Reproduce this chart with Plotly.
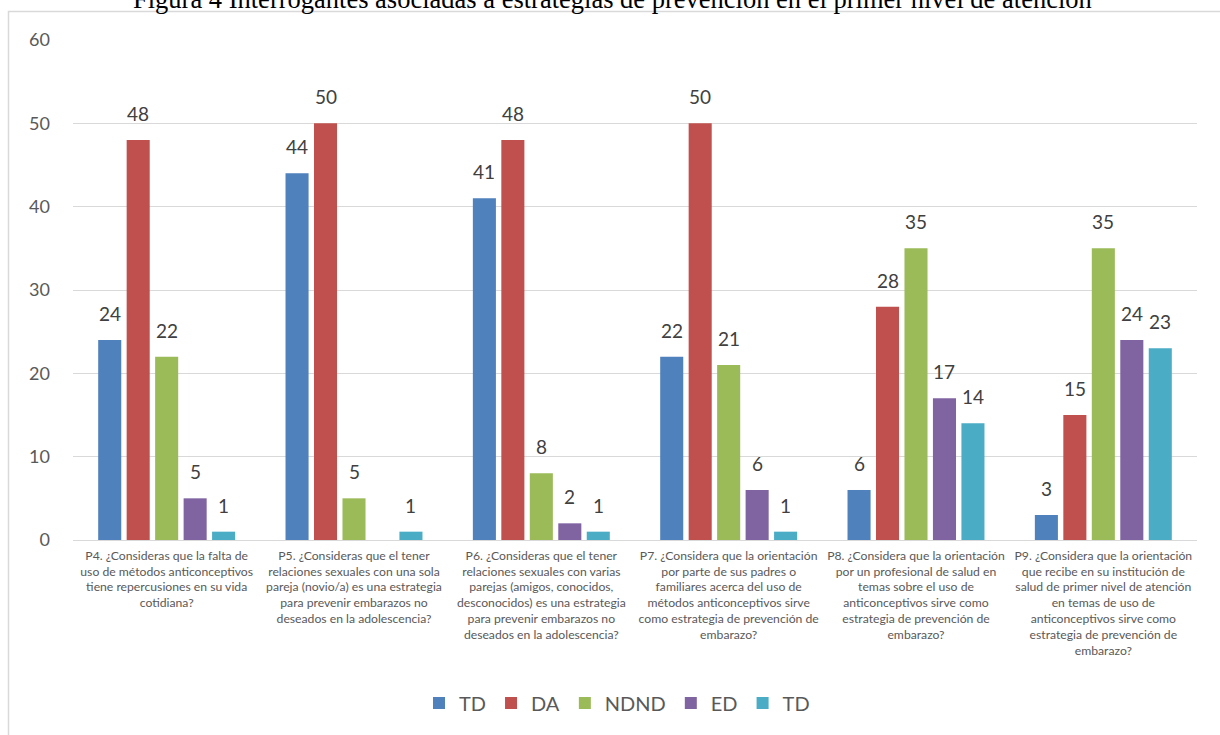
import plotly.graph_objects as go

categories = [
    "P4. ¿Consideras que la falta de<br>uso de métodos anticonceptivos<br>tiene repercusiones en su vida<br>cotidiana?",
    "P5. ¿Consideras que el tener<br>relaciones sexuales con una sola<br>pareja (novio/a) es una estrategia<br>para prevenir embarazos no<br>deseados en la adolescencia?",
    "P6. ¿Consideras que el tener<br>relaciones sexuales con varias<br>parejas (amigos, conocidos,<br>desconocidos) es una estrategia<br>para prevenir embarazos no<br>deseados en la adolescencia?",
    "P7. ¿Considera que la orientación<br>por parte de sus padres o<br>familiares acerca del uso de<br>métodos anticonceptivos sirve<br>como estrategia de prevención de<br>embarazo?",
    "P8. ¿Considera que la orientación<br>por un profesional de salud en<br>temas sobre el uso de<br>anticonceptivos sirve como<br>estrategia de prevención de<br>embarazo?",
    "P9. ¿Considera que la orientación<br>que recibe en su institución de<br>salud de primer nivel de atención<br>en temas de uso de<br>anticonceptivos sirve como<br>estrategia de prevención de<br>embarazo?",
]
series_names = ["TD", "DA", "NDND", "ED", "TD"]
td_values = [24, 44, 41, 22, 6, 3]
da_values = [48, 50, 48, 50, 28, 15]
ndnd_values = [22, 5, 8, 21, 35, 35]
ed_values = [5, None, 2, 6, 17, 24]
td2_values = [1, 1, 1, 1, 14, 23]
colors = ["#4F81BD", "#C0504D", "#9BBB59", "#8064A2", "#4BACC6"]
y_ticks = [0, 10, 20, 30, 40, 50, 60]
title_text = "Figura 4 Interrogantes asociadas a estrategias de prevención en el primer nivel de atención"

all_values = [td_values, da_values, ndnd_values, ed_values, td2_values]

W, H = 1220, 735
ML, MR, MT, MB = 73, 23, 40, 195
plot_w = W - ML - MR
plot_h = H - MT - MB
bargap = 0.24
slot = plot_w / len(categories) * (1 - bargap) / len(series_names)


def px_to_paper_x(px):
    return (px - ML) / plot_w


def px_to_paper_y(py):
    return (H - MB - py) / plot_h


fig = go.Figure()
for i, (name, vals, col) in enumerate(zip(series_names, all_values, colors)):
    fig.add_trace(go.Bar(
        x=categories, y=vals, name=name, marker_color=col,
        marker_line_width=0,
    ))
    for cat, v in zip(categories, vals):
        if v is None:
            continue
        fig.add_annotation(
            x=cat, y=v, xref="x", yref="y", text=str(v), showarrow=False,
            xshift=(i - 2) * slot, yshift=13, yanchor="bottom",
            font=dict(family="Lato, Open Sans, sans-serif", size=19, color="#404040"),
        )

# Title (partly cut off at the top, as in the reference)
fig.add_annotation(
    text=title_text, xref="paper", yref="paper",
    x=px_to_paper_x(612), y=px_to_paper_y(-1), xanchor="center", yanchor="middle",
    showarrow=False,
    font=dict(family="Liberation Serif, Times New Roman, serif", size=26.5, color="#000000"),
)

# Outer chart border
fig.add_shape(
    type="rect", xref="paper", yref="paper",
    x0=px_to_paper_x(8.5), x1=px_to_paper_x(1225),
    y0=px_to_paper_y(740), y1=px_to_paper_y(11.5),
    line=dict(color="#D9D9D9", width=1.5), fillcolor="rgba(0,0,0,0)", layer="below",
)

fig.update_layout(
    width=W, height=H,
    margin=dict(l=ML, r=MR, t=MT, b=MB, pad=0),
    paper_bgcolor="white", plot_bgcolor="white",
    barmode="group", bargap=bargap, bargroupgap=0.19,
    showlegend=True,
    legend=dict(
        orientation="h", x=px_to_paper_x(617), xanchor="center",
        y=px_to_paper_y(703), yanchor="middle",
        font=dict(family="Lato, Open Sans, sans-serif", size=20, color="#595959"),
        traceorder="normal", itemwidth=30,
    ),
    xaxis=dict(
        tickfont=dict(family="Lato, Open Sans, sans-serif", size=12.2, color="#595959"),
        tickangle=0, showline=True, linecolor="#D9D9D9", linewidth=1,
        ticks="", showgrid=False, ticklabelstandoff=4,
    ),
    yaxis=dict(
        range=[0, 60], tickvals=y_ticks,
        tickfont=dict(family="Lato, Open Sans, sans-serif", size=18, color="#595959"),
        showgrid=True, gridcolor="#D9D9D9", gridwidth=1,
        zeroline=True, zerolinecolor="#D9D9D9", zerolinewidth=1,
        showline=False, ticks="", ticklabelstandoff=22,
    ),
)

fig.write_html("out.html")
